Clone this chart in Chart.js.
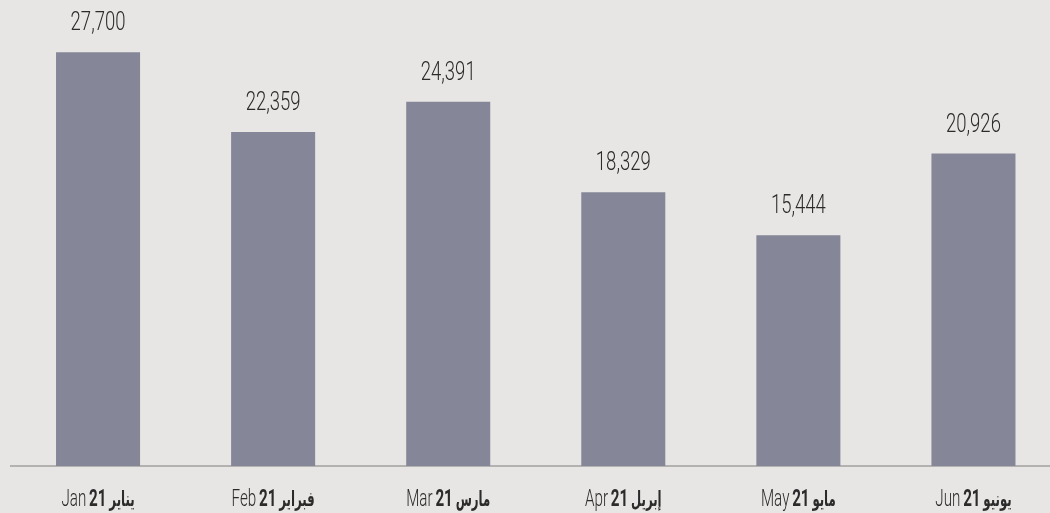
<!DOCTYPE html>
<html>
<head>
<meta charset="utf-8">
<script src="https://cdn.jsdelivr.net/npm/chart.js@4/dist/chart.umd.min.js"></script>
<style>
  html, body { margin: 0; padding: 0; background: #e8e6e4; overflow: hidden; }
  #wrap { position: absolute; left: 0; top: 0; width: 1061px; height: 513px; }
</style>
</head>
<body>
<div id="wrap"><canvas id="mychart" width="1061" height="513"></canvas></div>
<script>
'use strict';

const monthsEn = ['Jan', 'Feb', 'Mar', 'Apr', 'May', 'Jun'];
const monthsAr = ['يناير', 'فبراير', 'مارس', 'إبريل', 'مايو', 'يونيو'];
const yearTag = '21';
const values = [27700, 22359, 24391, 18329, 15444, 20926];

const labels = monthsEn.map((m, i) => m + ' ' + yearTag + ' ' + monthsAr[i]);

// value labels above each bar
const valueLabels = {
  id: 'valueLabels',
  afterDatasetsDraw(chart) {
    const ctx = chart.ctx;
    const meta = chart.getDatasetMeta(0);
    ctx.save();
    ctx.fillStyle = '#2b2b2b';
    ctx.font = '300 25px Roboto, sans-serif';
    ctx.textAlign = 'center';
    ctx.textBaseline = 'alphabetic';
    meta.data.forEach((bar, i) => {
      const txt = values[i].toLocaleString('en-US');
      ctx.save();
      ctx.translate(bar.x, bar.y - 22);
      ctx.scale(0.74, 1);
      ctx.fillText(txt, 0, 0);
      ctx.restore();
    });
    ctx.restore();
  }
};

// mixed weight x labels
const xLabels = {
  id: 'xLabels',
  afterDraw(chart) {
    const ctx = chart.ctx;
    const xs = chart.scales.x;
    const y = chart.chartArea.bottom + 40;
    ctx.save();
    ctx.fillStyle = '#2b2b2b';
    ctx.textBaseline = 'alphabetic';
    ctx.textAlign = 'left';
    const light = '300 23px Roboto, sans-serif';
    const bold = 'bold 23px Roboto, "DejaVu Sans", sans-serif';
    const arab = 'bold 21px "DejaVu Sans Condensed", "DejaVu Sans", sans-serif';
    for (let i = 0; i < monthsEn.length; i++) {
      const parts = [
        [monthsEn[i], light, 0.66],
        [' ', light, 0.5],
        [yearTag, bold, 0.66],
        [' ', light, 0.5],
        [monthsAr[i], arab, 0.62]
      ];
      let total = 0;
      parts.forEach(p => { ctx.font = p[1]; total += ctx.measureText(p[0]).width * p[2]; });
      let x = xs.getPixelForValue(i) - total / 2;
      parts.forEach(p => {
        ctx.font = p[1];
        ctx.save();
        ctx.translate(x, y);
        ctx.scale(p[2], 1);
        ctx.fillText(p[0], 0, 0);
        ctx.restore();
        x += ctx.measureText(p[0]).width * p[2];
      });
    }
    ctx.restore();
  }
};

let ctx = document.getElementById('mychart').getContext('2d');
let chart1 = new Chart(ctx, {
  type: 'bar',
  data: {
    labels: labels,
    datasets: [{
      data: values,
      backgroundColor: '#868699',
      borderWidth: 0,
      barPercentage: 0.96,
      categoryPercentage: 0.5
    }]
  },
  options: {
    responsive: false,
    animation: false,
    layout: { padding: { left: 10.5, right: 0, top: 18, bottom: 39 } },
    plugins: { legend: { display: false }, tooltip: { enabled: false } },
    scales: {
      x: {
        grid: { display: false },
        border: { display: true, color: '#b4b2b0', width: 2 },
        ticks: { display: false }
      },
      y: {
        display: false,
        min: 0,
        max: 30000
      }
    }
  },
  plugins: [valueLabels, xLabels]
});
</script>
</body>
</html>
